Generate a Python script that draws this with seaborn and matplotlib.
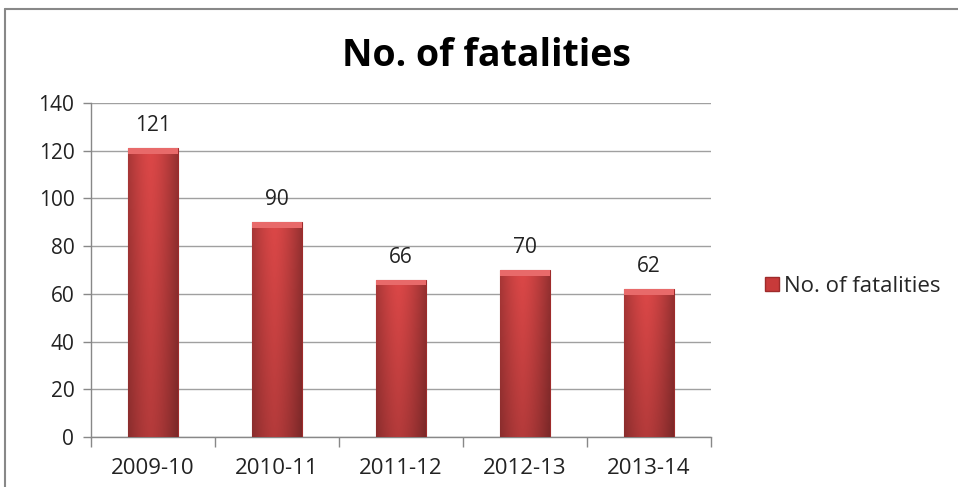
import numpy as np
import pandas as pd
import seaborn as sns
import matplotlib.pyplot as plt
import matplotlib.ticker as ticker
from matplotlib.patches import Rectangle
from matplotlib.lines import Line2D

years = ['2009-10', '2010-11', '2011-12', '2012-13', '2013-14']
fatalities = [121, 90, 66, 70, 62]
series_name = 'No. of fatalities'

df = pd.DataFrame({'year': years, 'fatalities': fatalities})

sns.set_theme(style='white')
plt.rcParams['font.family'] = ['Open Sans', 'DejaVu Sans']

fig = plt.figure(figsize=(9.58, 4.87), dpi=100)
ax = fig.add_axes([0.095, 0.1027, 0.647, 0.6858])

sns.barplot(data=df, x='year', y='fatalities', color='#D24242', width=0.4,
            saturation=1, ax=ax, zorder=3)

# excel-ish shading on each bar
grad = np.linspace(0, 1, 64)
shade = 1 - 0.35 * np.abs(grad - 0.45) ** 1.5 * 2.2
vshade = np.linspace(0.82, 1.0, 64)
for p in ax.patches:
    p.set_edgecolor('#9E2B2B')
    p.set_linewidth(0.8)
    x0, y0 = p.get_x(), p.get_y()
    w, h = p.get_width(), p.get_height()
    base = np.array([0.86, 0.28, 0.28])
    img = base[None, None, :] * shade[None, :, None] * vshade[::-1][:, None, None]
    im = ax.imshow(img, extent=[x0, x0 + w, y0, y0 + h], aspect='auto',
                   zorder=3.5, interpolation='bicubic')
    im.set_clip_path(p)
    # bevel at top
    ax.add_patch(Rectangle((x0, y0 + h - 2.4), w, 2.4, facecolor='#E86A6A',
                           edgecolor='none', zorder=3.6))

for i, v in enumerate(fatalities):
    ax.text(i, v + 5, str(v), ha='center', va='bottom', fontsize=15,
            color='#222222')

ax.set_ylim(0, 140)
ax.set_xlim(-0.5, 4.5)
ax.yaxis.set_major_locator(ticker.MultipleLocator(20))
ax.grid(axis='y', color='#A0A0A0', linewidth=1, zorder=0)
ax.set_axisbelow(True)
ax.set_xlabel('')
ax.set_ylabel('')

for s in ['top', 'right']:
    ax.spines[s].set_visible(False)
for s in ['left', 'bottom']:
    ax.spines[s].set_color('#888888')
    ax.spines[s].set_linewidth(1)

ax.tick_params(axis='y', length=6, width=1, color='#888888', labelsize=15,
               labelcolor='#222222', pad=6, left=True)
ax.tick_params(axis='x', which='major', length=0, labelsize=16,
               labelcolor='#222222', pad=15)
ax.set_xticks(np.arange(-0.5, 5, 1), minor=True)
ax.tick_params(axis='x', which='minor', length=7, width=1, color='#888888',
               bottom=True)

fig.text(0.508, 0.885, 'No. of fatalities', ha='center', va='center',
         fontsize=27, fontweight='bold', color='black')

handle = Line2D([], [], marker='s', linestyle='none', markersize=10,
                markerfacecolor='#C83A3A', markeredgecolor='#9E2B2B')
fig.legend([handle], [series_name], loc='center left',
           bbox_to_anchor=(0.775, 0.412), frameon=False, fontsize=16,
           handletextpad=0.05, handlelength=0.9)

# chart border (cut at right / bottom like the screenshot)
fig.add_artist(Line2D([0.005, 1.0], [0.981, 0.981], color='#888888', lw=1.5,
                      transform=fig.transFigure))
fig.add_artist(Line2D([0.0055, 0.0055], [0.0, 0.981], color='#888888', lw=1.5,
                      transform=fig.transFigure))

fig.savefig('out.png', dpi=100)
